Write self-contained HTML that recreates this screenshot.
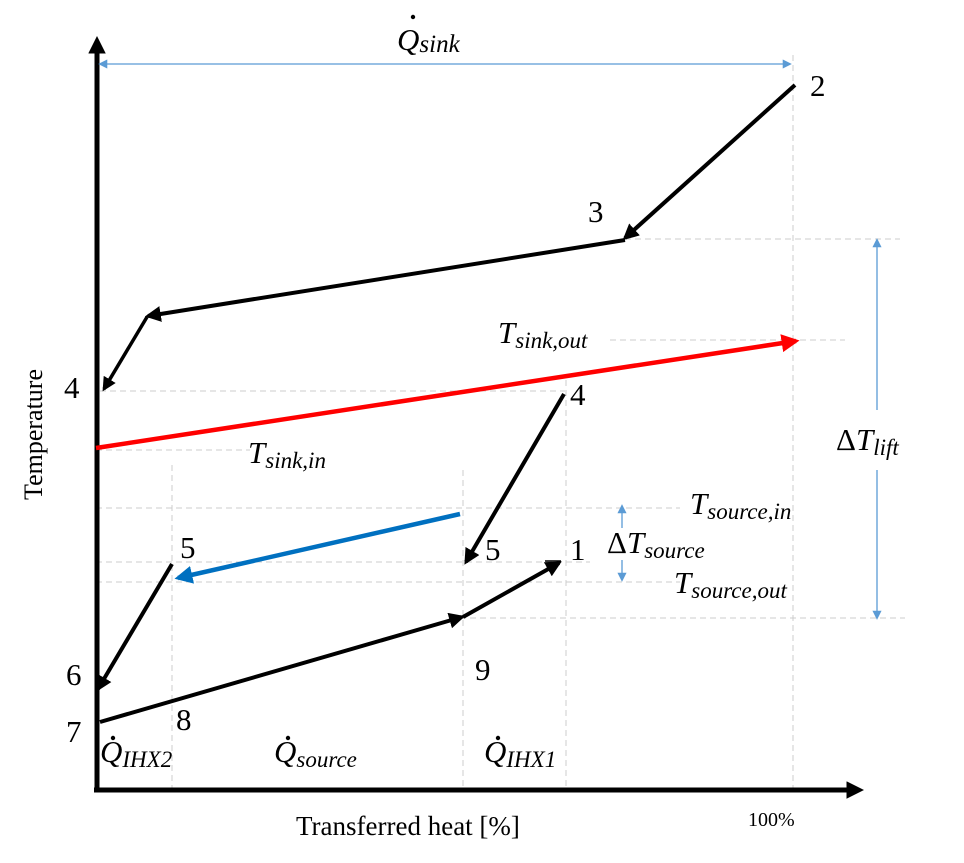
<!DOCTYPE html>
<html><head><style>body{margin:0;background:#fff}svg{display:block}
text{font-family:"Liberation Serif",serif;fill:#000}
.m{font-style:italic}</style></head><body>
<svg width="964" height="863" viewBox="0 0 964 863">
<defs>
<marker id="ab" viewBox="0 0 10 10" refX="8" refY="5" markerWidth="4" markerHeight="4" orient="auto-start-reverse"><path d="M0,0L10,5L0,10z" fill="#000"/></marker>
<marker id="ar" viewBox="0 0 10 10" refX="8" refY="5" markerWidth="4" markerHeight="4" orient="auto"><path d="M0,0L10,5L0,10z" fill="#f00"/></marker>
<marker id="au" viewBox="0 0 10 10" refX="8" refY="5" markerWidth="4" markerHeight="4" orient="auto"><path d="M0,0L10,5L0,10z" fill="#0070c0"/></marker>
<marker id="al" viewBox="0 0 10 10" refX="8" refY="5" markerWidth="7" markerHeight="7" orient="auto-start-reverse"><path d="M0,0L10,5L0,10z" fill="#5b9bd5"/></marker>
<marker id="ax" viewBox="0 0 10 10" refX="2" refY="5" markerWidth="3.5" markerHeight="3.5" orient="auto"><path d="M0,0L10,5L0,10z" fill="#000"/></marker>
</defs>
<g stroke="#ccc" stroke-width="1" stroke-dasharray="6,4" fill="none">
<path d="M793 55V790M172 465V790M463 470V790M566 380V790"/>
<path d="M625 239H900M610 340H845M100 391H565M96 450H250M96 508H680M96 562H590M96 582H680M460 618H905"/>
</g>
<path d="M97 790V50" stroke="#000" stroke-width="5" marker-end="url(#ax)"/>
<path d="M94 790H850" stroke="#000" stroke-width="5" marker-end="url(#ax)"/>
<g stroke="#5b9bd5" stroke-width="1.3">
<path d="M100 64H790" marker-start="url(#al)" marker-end="url(#al)"/>
<path d="M877 410V240" marker-end="url(#al)"/>
<path d="M877 470V618" marker-end="url(#al)"/>
<path d="M622 528V506" marker-end="url(#al)"/>
<path d="M622 560V580" marker-end="url(#al)"/>
</g>
<g stroke="#000" stroke-width="4" fill="none">
<path d="M795 85L625 238" marker-end="url(#ab)"/>
<path d="M625 240L148 316" marker-end="url(#ab)"/>
<path d="M147 317L104 389" stroke-width="3.5" marker-end="url(#ab)"/>
<path d="M564 394L466 562" marker-end="url(#ab)"/>
<path d="M172 564L98 689" marker-end="url(#ab)"/>
<path d="M100 722L462 617" marker-end="url(#ab)"/>
<path d="M463 617L559 563" marker-end="url(#ab)"/>
<path d="M545 561H561" stroke-width="1.5"/>
</g>
<path d="M96 448L796 341" stroke="#f00" stroke-width="4.5" marker-end="url(#ar)"/>
<path d="M460 514L178 578" stroke="#0070c0" stroke-width="4.5" marker-end="url(#au)"/>
<g font-size="31">
<text x="810" y="96">2</text><text x="588" y="222">3</text>
<text x="64" y="398">4</text><text x="570" y="405">4</text>
<text x="180" y="558">5</text><text x="485" y="560">5</text>
<text x="570" y="560">1</text><text x="66" y="685">6</text>
<text x="66" y="742">7</text><text x="176" y="730">8</text>
<text x="475" y="680">9</text>
</g>
<g font-size="31" class="m">
<text x="397" y="50">Q<tspan font-size="25" dy="2">sink</tspan></text>
<text x="498" y="343">T<tspan font-size="23" dy="5">sink,out</tspan></text>
<text x="248" y="463">T<tspan font-size="23" dy="5">sink,in</tspan></text>
<text x="690" y="514">T<tspan font-size="23" dy="5">source,in</tspan></text>
<text x="674" y="593">T<tspan font-size="23" dy="5">source,out</tspan></text>
<text x="607" y="553"><tspan font-style="normal">Δ</tspan>T<tspan font-size="23" dy="5">source</tspan></text>
<text x="836" y="450"><tspan font-style="normal">Δ</tspan>T<tspan font-size="23" dy="5">lift</tspan></text>
<text x="100" y="762">Q<tspan font-size="23" dy="5">IHX2</tspan></text>
<text x="274" y="762">Q<tspan font-size="23" dy="5">source</tspan></text>
<text x="484" y="762">Q<tspan font-size="23" dy="5">IHX1</tspan></text>
</g>
<g fill="#000"><circle cx="413" cy="17" r="2.2"/><circle cx="113" cy="738" r="2.2"/><circle cx="288" cy="738" r="2.2"/><circle cx="498" cy="738" r="2.2"/></g>
<text x="296" y="835" font-size="27">Transferred heat [%]</text>
<text x="748" y="826" font-size="20">100%</text>
<text transform="translate(42 500) rotate(-90)" font-size="26">Temperature</text>
</svg>
</body></html>
